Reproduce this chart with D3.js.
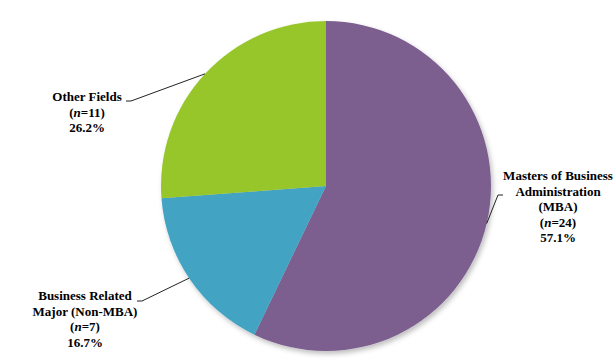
<!DOCTYPE html>
<html>
<head>
<meta charset="utf-8">
<script src="https://cdn.jsdelivr.net/npm/d3@7"></script>
<style>
  body { margin: 0; background: #fff; }
  svg { display: block; }
  text { font-family: "Liberation Serif", "Times New Roman", serif; font-weight: bold; font-size: 13px; fill: #000; }
</style>
</head>
<body>
<div id="chart"></div>
<script>
// data, clockwise from 12 o'clock
const categories = ["Masters of Business Administration (MBA)", "Business Related Major (Non-MBA)", "Other Fields"];
const counts = [24, 7, 11];
const percents = ["57.1%", "16.7%", "26.2%"];
const colors = ["#7b5e8f", "#42a3c3", "#97c62b"];

// label lines (text broken as in the picture)
const labelLines = [
  ["Masters of Business", "Administration", "(MBA)"],
  ["Business Related", "Major (Non-MBA)"],
  ["Other Fields"]
];

const width = 615, height = 363;
const cx = 326, cy = 186, radius = 165;

const svg = d3.select("#chart").append("svg")
  .attr("width", width)
  .attr("height", height);

// soft shadow under the pie
const defs = svg.append("defs");
const filt = defs.append("filter").attr("id", "shadow")
  .attr("x", "-10%").attr("y", "-10%").attr("width", "125%").attr("height", "125%");
filt.append("feDropShadow")
  .attr("dx", 2).attr("dy", 3).attr("stdDeviation", 2.5)
  .attr("flood-color", "#000").attr("flood-opacity", 0.25);

const pie = d3.pie().sort(null).value(d => d);
const arcs = pie(counts);
const arc = d3.arc().innerRadius(0).outerRadius(radius);

const g = svg.append("g").attr("transform", "translate(" + cx + "," + cy + ")");

g.append("g").attr("filter", "url(#shadow)")
  .selectAll("path")
  .data(arcs)
  .enter()
  .append("path")
  .attr("d", arc)
  .attr("fill", (d, i) => colors[i]);

// label layout: text centre, first baseline, where leader starts, angle on the rim
const labelPos = [
  { x: 558, y: 180, lead: [503, 195], ang: 1.80 },
  { x: 85, y: 300, lead: [137, 301], ang: 4.12 },
  { x: 87, y: 101, lead: [126, 101], ang: 5.46 }
];
const lineH = 15.5;

arcs.forEach((d, i) => {
  const p = labelPos[i];
  const rim = [cx + Math.sin(p.ang) * radius, cy - Math.cos(p.ang) * radius];
  const sx = p.lead[0], sy = p.lead[1];
  const dir = rim[0] > sx ? 1 : -1;
  svg.append("path")
    .attr("d", "M" + sx + "," + sy + "L" + (sx + dir * 5) + "," + sy + "L" + rim[0] + "," + rim[1])
    .attr("fill", "none")
    .attr("stroke", "#222")
    .attr("stroke-width", 1);

  const t = svg.append("text")
    .attr("text-anchor", "middle")
    .attr("x", p.x)
    .attr("y", p.y);
  const lines = labelLines[i];
  lines.forEach((s, j) => {
    t.append("tspan").attr("x", p.x).attr("dy", j === 0 ? 0 : lineH).text(s);
  });
  const nl = t.append("tspan").attr("x", p.x).attr("dy", lineH);
  nl.append("tspan").text("(");
  nl.append("tspan").attr("font-style", "italic").text("n");
  nl.append("tspan").text("=" + d.data + ")");
  t.append("tspan").attr("x", p.x).attr("dy", lineH).text(percents[i]);
});
</script>
</body>
</html>
